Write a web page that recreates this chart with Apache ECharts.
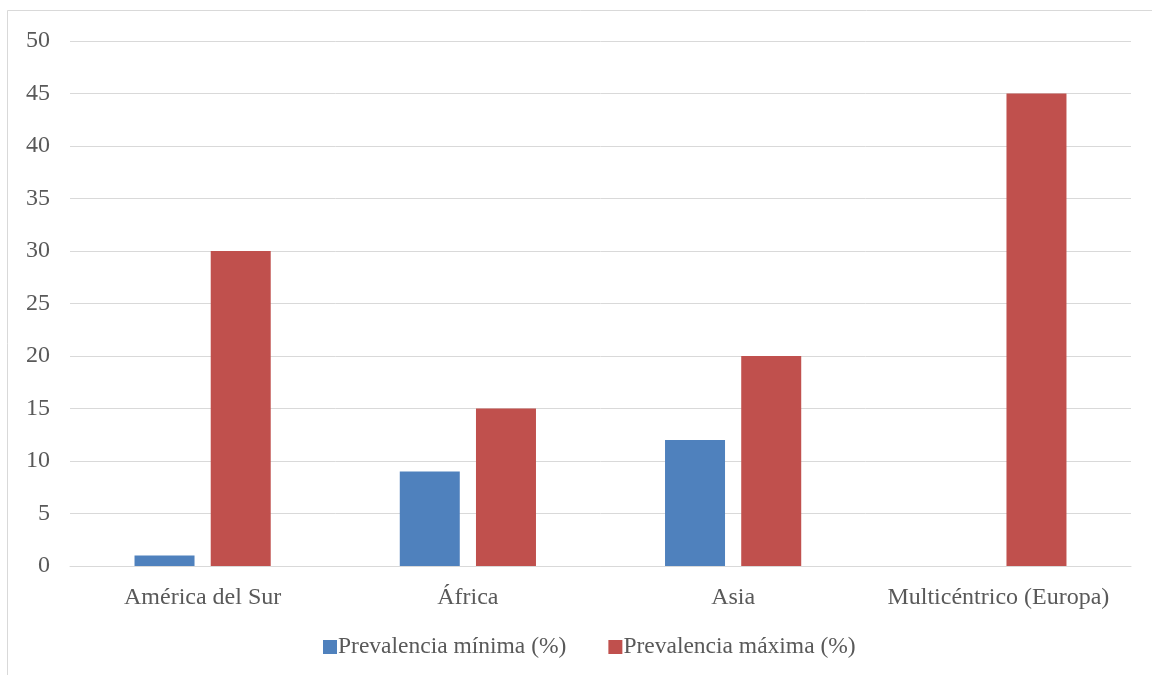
<!DOCTYPE html>
<html>
<head>
<meta charset="utf-8">
<style>
  html, body { margin: 0; padding: 0; background: #ffffff; }
  #chart { width: 1152px; height: 675px; }
</style>
<script src="https://cdn.jsdelivr.net/npm/echarts@6/dist/echarts.min.js"></script>
</head>
<body>
<div id="chart"></div>
<script>
// Regions and prevalence ranges (%)
const categories = ['América del Sur', 'África', 'Asia', 'Multicéntrico (Europa)'];
const prevalenciaMinima = [1, 9, 12, null];
const prevalenciaMaxima = [30, 15, 20, 45];
const seriesNames = ['Prevalencia mínima (%)', 'Prevalencia máxima (%)'];

const textColor = '#595959';
const fontFamily = '"Liberation Serif", "Times New Roman", serif';

const chart = echarts.init(document.getElementById('chart'));
chart.setOption({
  animation: false,
  backgroundColor: '#ffffff',
  graphic: [{
    type: 'rect',
    shape: { x: 7.5, y: 10.5, width: 1160, height: 700 },
    style: { fill: 'none', stroke: '#d9d9d9', lineWidth: 1 },
    silent: true
  }],
  grid: { left: 70, right: 21, top: 41, bottom: 109 },
  legend: {
    bottom: 11,
    left: 318,
    itemWidth: 14,
    itemHeight: 14,
    itemGap: 42,
    icon: 'rect',
    textStyle: { color: textColor, fontFamily: fontFamily, fontSize: 23.5, padding: [0, 0, 0, -4] },
    data: seriesNames
  },
  xAxis: {
    type: 'category',
    data: categories,
    axisLine: { lineStyle: { color: '#d9d9d9', width: 1 } },
    axisTick: { show: false },
    axisLabel: { color: textColor, fontFamily: fontFamily, fontSize: 24, margin: 20, interval: 0 }
  },
  yAxis: {
    type: 'value',
    min: 0,
    max: 50,
    interval: 5,
    axisLine: { show: false },
    axisTick: { show: false },
    splitLine: { lineStyle: { color: '#d9d9d9', width: 1 } },
    axisLabel: { color: textColor, fontFamily: fontFamily, fontSize: 24, margin: 20 }
  },
  series: [
    {
      name: seriesNames[0],
      type: 'bar',
      data: prevalenciaMinima,
      barWidth: 60,
      barGap: '27%',
      itemStyle: { color: '#4f81bd' }
    },
    {
      name: seriesNames[1],
      type: 'bar',
      data: prevalenciaMaxima,
      barWidth: 60,
      itemStyle: { color: '#c0504d' }
    }
  ]
});
</script>
</body>
</html>
